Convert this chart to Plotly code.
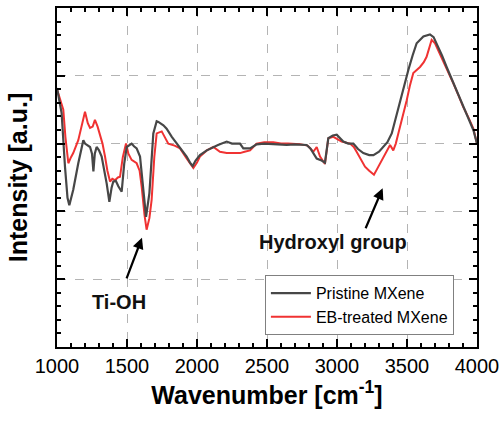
import plotly.graph_objects as go

# Pristine MXene (dark gray)
pristine_x = [1000, 1033, 1057, 1075, 1088, 1100, 1116, 1152, 1188, 1200, 1236, 1250, 1260, 1270,
              1283, 1300, 1319, 1355, 1374, 1390, 1402, 1420, 1438, 1462, 1480, 1498, 1515, 1533,
              1550, 1569, 1593, 1617, 1636, 1660, 1688, 1712, 1724, 1760, 1783, 1820, 1855, 1890,
              1926, 1950, 1969, 1990, 2021, 2070, 2117, 2150, 2212, 2250, 2307, 2331, 2379, 2426,
              2480, 2545, 2600, 2640, 2700, 2783, 2810, 2831, 2855, 2890, 2914, 2938, 2970, 2998,
              3045, 3080, 3117, 3150, 3188, 3230, 3260, 3300, 3331, 3360, 3391, 3420, 3450, 3480,
              3510, 3540, 3569, 3617, 3664, 3690, 3712, 3750, 3783, 3820, 3855, 3890, 3926, 3950,
              3974, 4000]
pristine_y = [3.82, 3.45, 2.66, 2.2, 2.09, 2.2, 2.32, 2.71, 3.05, 3.0, 2.95, 2.85, 2.59, 2.85,
              2.95, 2.9, 2.81, 2.41, 2.14, 2.35, 2.44, 2.45, 2.37, 2.29, 2.7, 2.95, 2.97, 3.0,
              2.96, 2.93, 2.81, 2.36, 1.92, 2.27, 3.15, 3.33, 3.32, 3.27, 3.22, 3.1, 3.0, 2.9,
              2.81, 2.72, 2.67, 2.75, 2.83, 2.9, 2.95, 2.98, 3.03, 3.0, 3.0, 2.93, 2.93, 2.99,
              3.0, 2.99, 2.99, 2.98, 2.99, 2.98, 2.93, 2.86, 2.78, 2.75, 2.72, 3.08, 3.12, 3.13,
              3.03, 3.0, 3.0, 2.92, 2.86, 2.83, 2.83, 2.88, 2.95, 3.02, 3.15, 3.38, 3.64, 3.87,
              4.09, 4.3, 4.48, 4.58, 4.61, 4.57, 4.48, 4.3, 4.13, 3.95, 3.79, 3.62, 3.45, 3.33,
              3.2, 3.0]

# EB-treated MXene (red)
eb_x = [1000, 1009, 1030, 1045, 1060, 1081, 1100, 1116, 1152, 1175, 1200, 1220, 1236, 1255,
        1271, 1290, 1307, 1325, 1343, 1360, 1379, 1395, 1414, 1435, 1450, 1470, 1493, 1510,
        1533, 1569, 1590, 1605, 1625, 1640, 1660, 1676, 1695, 1712, 1748, 1770, 1795, 1840,
        1879, 1926, 1950, 1974, 2000, 2021, 2070, 2117, 2164, 2212, 2260, 2307, 2340, 2379,
        2426, 2480, 2545, 2600, 2650, 2736, 2790, 2831, 2855, 2879, 2914, 2938, 2974, 3033,
        3093, 3120, 3140, 3170, 3200, 3230, 3264, 3285, 3307, 3330, 3355, 3379, 3402, 3420,
        3438, 3470, 3498, 3520, 3545, 3593, 3620, 3640, 3660, 3676, 3700, 3730, 3760, 3800,
        3831, 3870, 3902, 3940, 3974, 4000]
eb_y = [3.8, 3.74, 3.6, 3.5, 3.1, 2.71, 2.8, 2.86, 3.05, 3.25, 3.47, 3.3, 3.23, 3.25,
        3.35, 3.25, 3.13, 3.0, 2.81, 2.6, 2.44, 2.48, 2.46, 2.5, 2.51, 2.8, 3.0, 2.85,
        2.76, 2.71, 2.6, 2.36, 1.95, 1.73, 1.9, 2.17, 2.8, 3.15, 3.18, 3.1, 3.0, 2.97,
        2.93, 2.78, 2.7, 2.64, 2.72, 2.81, 2.9, 2.95, 2.88, 2.86, 2.86, 2.86, 2.88, 2.9,
        3.0, 3.02, 3.02, 3.0, 3.0, 2.99, 2.97, 2.88, 2.95, 2.81, 2.7, 3.08, 3.1, 3.03,
        3.0, 2.95, 2.88, 2.78, 2.66, 2.6, 2.54, 2.62, 2.71, 2.8, 2.9, 2.98, 2.9, 3.0,
        3.15, 3.4, 3.64, 3.85, 4.04, 4.13, 4.2, 4.28, 4.42, 4.53, 4.48, 4.35, 4.21, 4.03,
        3.89, 3.7, 3.54, 3.38, 3.22, 3.0]

x_ticks = [1000, 1500, 2000, 2500, 3000, 3500, 4000]
x_tick_labels = ["1000", "1500", "2000", "2500", "3000", "3500", "4000"]

FONT = "Liberation Sans, Arial, sans-serif"

fig = go.Figure()
fig.add_trace(go.Scatter(x=eb_x, y=eb_y, mode="lines", name="EB-treated MXene",
                         line=dict(color="#f03232", width=2), legendrank=2))
fig.add_trace(go.Scatter(x=pristine_x, y=pristine_y, mode="lines", name="Pristine MXene",
                         line=dict(color="#474747", width=2.2), legendrank=1))

axis_common = dict(
    showline=True, linecolor="black", linewidth=2, mirror="allticks",
    ticks="inside", ticklen=8, tickwidth=2, tickcolor="black",
    showgrid=True, gridcolor="#b4b4b4", griddash="dash", gridwidth=1,
    zeroline=False, automargin=False,
)

fig.update_xaxes(
    range=[1000, 4000], tickvals=x_ticks, ticktext=x_tick_labels,
    tickfont=dict(family=FONT, size=20, color="black"),
    minor=dict(dtick=100, ticks="inside", ticklen=4, tickwidth=2, tickcolor="black", showgrid=False),
    title=dict(text="<b>Wavenumber [cm<sup>-1</sup>]</b>",
               font=dict(family=FONT, size=25, color="black"), standoff=10),
    **axis_common,
)
fig.update_yaxes(
    range=[0, 5], dtick=1, tick0=0, showticklabels=False,
    minor=dict(dtick=0.2, ticks="inside", ticklen=4, tickwidth=2, tickcolor="black", showgrid=False),
    title=dict(text="<b>Intensity [a.u.]</b>",
               font=dict(family=FONT, size=25, color="black"), standoff=20),
    **axis_common,
)

# Labels and arrows
fig.add_annotation(x=1443, y=0.67, text="<b>Ti-OH</b>", showarrow=False,
                   font=dict(family=FONT, size=20, color="#111111"))
fig.add_annotation(x=1607, y=1.61, ax=1493, ay=0.99, axref="x", ayref="y", text="",
                   showarrow=True, arrowhead=2, arrowsize=1, arrowwidth=2.2, arrowcolor="black")
fig.add_annotation(x=2971, y=1.55, text="<b>Hydroxyl group</b>", showarrow=False,
                   font=dict(family=FONT, size=20, color="#111111"))
fig.add_annotation(x=3326, y=2.34, ax=3200, ay=1.73, axref="x", ayref="y", text="",
                   showarrow=True, arrowhead=2, arrowsize=1, arrowwidth=2.2, arrowcolor="black")

fig.update_layout(
    width=501, height=421,
    margin=dict(l=57, r=24, t=8, b=74),
    paper_bgcolor="white", plot_bgcolor="white",
    font=dict(family=FONT, color="black"),
    legend=dict(x=0.945, y=0.035, xanchor="right", yanchor="bottom",
                bgcolor="white", bordercolor="#808080", borderwidth=1,
                font=dict(family=FONT, size=16, color="black"),
                tracegroupgap=0, itemwidth=40),
    showlegend=True,
)

fig.write_html("out.html")
